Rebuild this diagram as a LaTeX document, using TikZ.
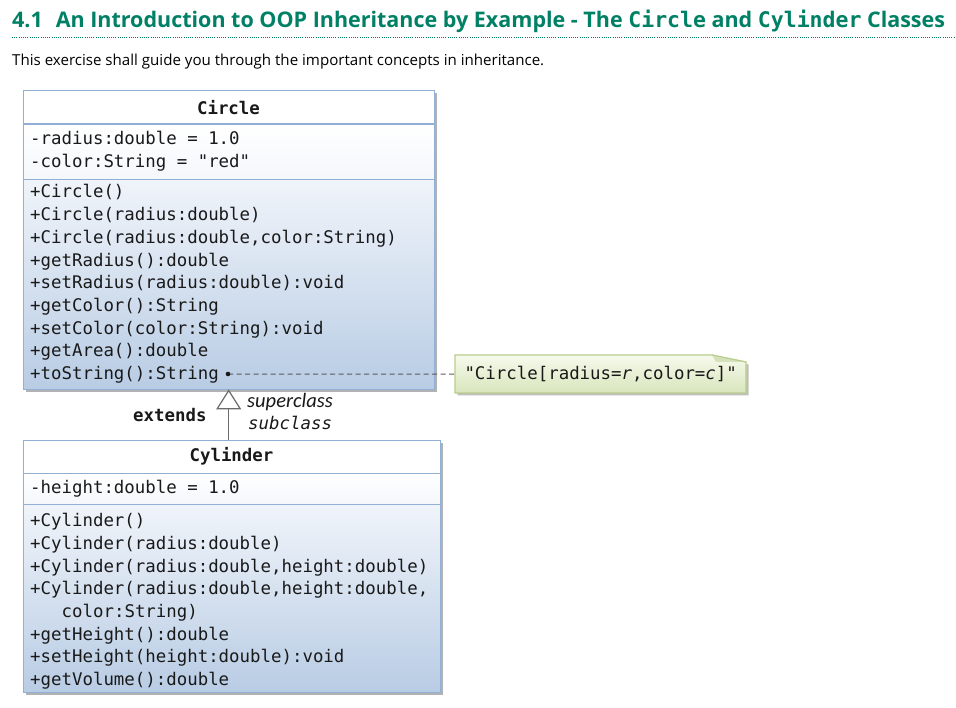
\documentclass[tikz,border=0pt]{standalone}
\usepackage{fontspec}
\setmainfont{Open Sans}
\setmonofont{DejaVu Sans Mono}
\newfontfamily\labelfont{Carlito}
\usetikzlibrary{arrows.meta,shadows}

\definecolor{titlegreen}{RGB}{0,128,100}
\definecolor{umlborder}{RGB}{146,176,214}
\definecolor{attrbottom}{RGB}{244,247,251}
\definecolor{opstop}{RGB}{240,244,250}
\definecolor{opsbottom}{RGB}{184,204,228}
\definecolor{noteborder}{RGB}{185,205,140}
\definecolor{notetop}{RGB}{246,250,236}
\definecolor{notebottom}{RGB}{216,229,188}
\definecolor{linkgray}{RGB}{90,90,90}
\definecolor{textgray}{RGB}{25,25,25}

\newcommand{\umlfont}{\ttfamily\fontsize{17.4}{20}\selectfont}

\tikzset{
  classframe/.style={anchor=north west, inner sep=0pt, fill=white,
    drop shadow={shadow xshift=2.5pt, shadow yshift=-2.5pt, fill=black, opacity=0.3}},
  compart/.style={anchor=north west, inner sep=0pt, draw=umlborder, line width=1.3pt},
  member/.style={anchor=base west, inner sep=0pt, text=textgray, font=\umlfont},
  classname/.style={anchor=base, inner sep=0pt, text=textgray, font=\umlfont\bfseries},
  notebox/.style={draw=noteborder, line width=1.2pt, top color=notetop, bottom color=notebottom,
    drop shadow={shadow xshift=2.5pt, shadow yshift=-2.5pt, fill=black, opacity=0.25}},
  notelink/.style={draw=linkgray, line width=1pt, dash pattern=on 5pt off 3.5pt},
  extendsline/.style={draw=linkgray!90, line width=1.2pt,
    -{Triangle[fill=white, length=20pt, width=25pt, line width=1.2pt]}},
}

\begin{document}
\begin{tikzpicture}[x=1pt,y=-1pt]
\useasboundingbox (0,0) rectangle (956,708);

% heading
\node[anchor=base west, inner sep=0pt, text=titlegreen, font=\bfseries\fontsize{21.5}{25}\selectfont] (title) at (12,27.3)
  {4.1\hspace{0.6em}An Introduction to OOP Inheritance by Example - The \texttt{Circle} and \texttt{Cylinder} Classes};
\draw[titlegreen, line width=1pt, dash pattern=on 1pt off 1.2pt] (12,37.7) -- (956,37.7);
\node[anchor=base west, inner sep=0pt, text=black, font=\fontsize{15.1}{18}\selectfont] (intro) at (12,66)
  {This exercise shall guide you through the important concepts in inheritance.};

% class Circle
\node[classframe, minimum width=411pt, minimum height=299pt] (circle) at (23,90) {};
\node[compart, minimum width=411pt, minimum height=33.5pt, fill=white] (circlename) at (23,90) {};
\node[compart, minimum width=411pt, minimum height=55.5pt, top color=white, bottom color=attrbottom] (circleattr) at (23,123.5) {};
\node[compart, minimum width=411pt, minimum height=210pt, top color=opstop, bottom color=opsbottom] (circleops) at (23,179) {};

\node[classname] (cn) at (228.5,114.5) {Circle};
\node[member] (ca1) at (30,145) {-radius:double = 1.0};
\node[member] (ca2) at (30,168) {-color:String = "red"};
\node[member] (co1) at (30,198) {+Circle()};
\node[member] (co2) at (30,220.7) {+Circle(radius:double)};
\node[member] (co3) at (30,243.4) {+Circle(radius:double,color:String)};
\node[member] (co4) at (30,266.1) {+getRadius():double};
\node[member] (co5) at (30,288.8) {+setRadius(radius:double):void};
\node[member] (co6) at (30,311.5) {+getColor():String};
\node[member] (co7) at (30,334.2) {+setColor(color:String):void};
\node[member] (co8) at (30,356.9) {+getArea():double};
\node[member] (co9) at (30,379.6) {+toString():String};

% class Cylinder
\node[classframe, minimum width=417pt, minimum height=252pt] (cylinder) at (23,440) {};
\node[compart, minimum width=417pt, minimum height=33pt, fill=white] (cylindername) at (23,440) {};
\node[compart, minimum width=417pt, minimum height=31pt, top color=white, bottom color=attrbottom] (cylinderattr) at (23,473) {};
\node[compart, minimum width=417pt, minimum height=188pt, top color=opstop, bottom color=opsbottom] (cylinderops) at (23,504) {};

\node[classname] (yn) at (231.5,461.7) {Cylinder};
\node[member] (ya1) at (30,493.3) {-height:double = 1.0};
\node[member] (yo1) at (30,526.7) {+Cylinder()};
\node[member] (yo2) at (30,549.3) {+Cylinder(radius:double)};
\node[member] (yo3) at (30,572) {+Cylinder(radius:double,height:double)};
\node[member] (yo4) at (30,594.7) {+Cylinder(radius:double,height:double,};
\node[member] (yo5) at (61.5,617.3) {color:String)};
\node[member] (yo6) at (30,640) {+getHeight():double};
\node[member] (yo7) at (30,662.7) {+setHeight(height:double):void};
\node[member] (yo8) at (30,685.3) {+getVolume():double};

% note for toString()
\shade[notebox] (455,355) -- (712,355) -- (746,362) -- (746,393) -- (455,393) -- cycle;
\fill[noteborder!60] (712,355) -- (716,362) -- (746,362) -- cycle;
\draw[noteborder, line width=1pt] (712,355) -- (746,362);
\node[inner sep=0pt, minimum width=291pt, minimum height=38pt, anchor=north west, text=textgray, font=\umlfont] (note) at (455,355)
  {"Circle[radius=\textit{r},color=\textit{c}]"};
\coordinate (tsdot) at (228,374);
\draw[notelink] (tsdot) -- (note.west);
\fill[textgray] (tsdot) circle (2.3pt);

% inheritance
\draw[extendsline] (circle.south |- cylinder.north) -- (circle.south);
\node[anchor=base west, inner sep=0pt, text=textgray, font=\umlfont\bfseries] (extends) at (133,421) {extends};
\node[anchor=base west, inner sep=0pt, text=textgray, font=\labelfont\itshape\fontsize{20.5}{24}\selectfont] (super) at (247,407.5) {superclass};
\node[anchor=base west, inner sep=0pt, text=textgray, font=\umlfont\itshape] (sub) at (248,430) {subclass};
\end{tikzpicture}
\end{document}
